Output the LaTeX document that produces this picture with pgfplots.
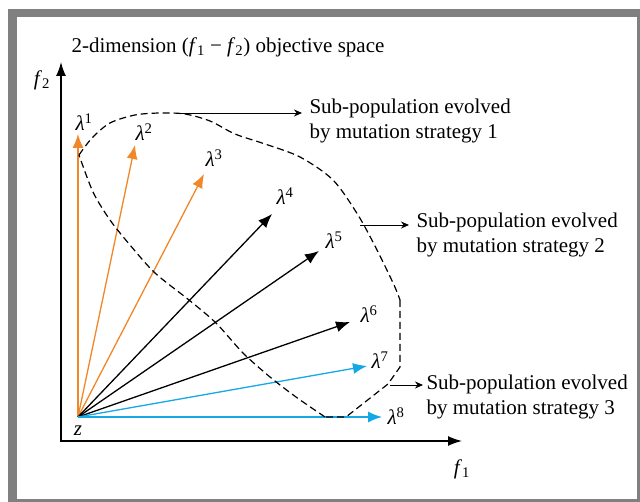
\documentclass[border=0pt]{standalone}
\usepackage{fontspec}
\setmainfont{Liberation Serif}
\usepackage{pgfplots}
\pgfplotsset{compat=1.18}
\usetikzlibrary{arrows.meta}
\definecolor{vecorange}{RGB}{242,135,40}
\definecolor{vecblue}{RGB}{20,168,230}
\definecolor{framegray}{RGB}{128,128,128}
\newcommand{\lam}[1]{\textit{λ}\textsuperscript{#1}}
\tikzset{lbl/.style={font=\fontsize{21}{25}\selectfont}}
\begin{document}
\begin{tikzpicture}
\begin{axis}[width=640pt,height=502pt,scale only axis,
  xmin=0,xmax=640,ymin=0,ymax=502,y dir=reverse,
  hide axis,clip=false]
% frame
\addplot[draw=none,fill=white] coordinates {(0,0)(640,0)(640,502)(0,502)} -- cycle;
\addplot[draw=none,fill=framegray] coordinates {(8,9)(640,9)(640,502)(8,502)} -- cycle;
\addplot[draw=none,fill=white] coordinates {(17,17)(637,17)(637,499)(17,499)} -- cycle;
% objective axes
\addplot[black,line width=1.5pt,-{Latex[length=14pt,width=10pt]}] coordinates {(61,442)(61,62)};
\addplot[black,line width=1.5pt,-{Latex[length=14pt,width=10pt]}] coordinates {(60,441)(462,441)};
% weight vectors
\addplot[vecorange,line width=1.3pt,-{Latex[length=14pt,width=11pt]}] coordinates {(78,417)(78,134)};
\addplot[vecorange,line width=1.3pt,-{Latex[length=14pt,width=11pt]}] coordinates {(78,417)(135,145)};
\addplot[vecorange,line width=1.3pt,-{Latex[length=14pt,width=11pt]}] coordinates {(78,417)(204,174)};
\addplot[black,line width=1.3pt,-{Latex[length=14pt,width=11pt]}] coordinates {(78,417)(272,214)};
\addplot[black,line width=1.3pt,-{Latex[length=14pt,width=11pt]}] coordinates {(78,417)(319,251)};
\addplot[black,line width=1.3pt,-{Latex[length=14pt,width=11pt]}] coordinates {(78,417)(350,322)};
\addplot[vecblue,line width=1.3pt,-{Latex[length=14pt,width=11pt]}] coordinates {(78,417)(367,366)};
\addplot[vecblue,line width=1.3pt,-{Latex[length=14pt,width=11pt]}] coordinates {(78,417)(382,417)};
% dashed sub-population boundaries
\addplot[black,line width=1.2pt,dash pattern=on 7pt off 4pt,smooth,tension=0.5] coordinates {
 (79,155)(92,138)(110,123)(135,115)(160,113)(185,114)(210,121)(235,134)(265,144)
 (300,157)(333,180)(358,215)(377,250)(394,285)(400,300)};
\addplot[black,line width=1.2pt,dash pattern=on 7pt off 4pt] coordinates {
 (400,300)(400,367)(388,384)(346,417)(325,417)};
\addplot[black,line width=1.2pt,dash pattern=on 7pt off 4pt,smooth,tension=0.5] coordinates {
 (325,417)(296,397)(270,377)(243,353)(216,323)(189,300)(155,273)(130,245)(110,220)(93,192)(79,155)};
% pointers to labels
\addplot[black,line width=0.9pt,-{Stealth[length=8pt,width=7pt]}] coordinates {(177,113)(302,113)};
\addplot[black,line width=0.9pt,-{Stealth[length=8pt,width=7pt]}] coordinates {(360,225)(409,225)};
\addplot[black,line width=0.9pt,-{Stealth[length=8pt,width=7pt]}] coordinates {(390,385)(423,385)};
% texts
\node[lbl,anchor=west] at (axis cs:68,47) {2-dimension (\textit{f}\textsubscript{1} − \textit{f}\textsubscript{2}) objective space};
\node[lbl] at (axis cs:42,80) {\textit{f}\textsubscript{2}};
\node[lbl] at (axis cs:462,469) {\textit{f}\textsubscript{1}};
\node[lbl] at (axis cs:78,431) {\textit{z}};
\node[lbl] at (axis cs:84,122) {\lam{1}};
\node[lbl] at (axis cs:144,132) {\lam{2}};
\node[lbl] at (axis cs:214,158) {\lam{3}};
\node[lbl] at (axis cs:285,196) {\lam{4}};
\node[lbl] at (axis cs:334,240) {\lam{5}};
\node[lbl] at (axis cs:369,314) {\lam{6}};
\node[lbl] at (axis cs:380,360) {\lam{7}};
\node[lbl] at (axis cs:396,416) {\lam{8}};
\node[lbl,anchor=west,align=left] at (axis cs:306,121) {Sub-population evolved\\by mutation strategy 1};
\node[lbl,anchor=west,align=left] at (axis cs:413,235) {Sub-population evolved\\by mutation strategy 2};
\node[lbl,anchor=west,align=left] at (axis cs:423,397) {Sub-population evolved\\by mutation strategy 3};
\end{axis}
\end{tikzpicture}
\end{document}
